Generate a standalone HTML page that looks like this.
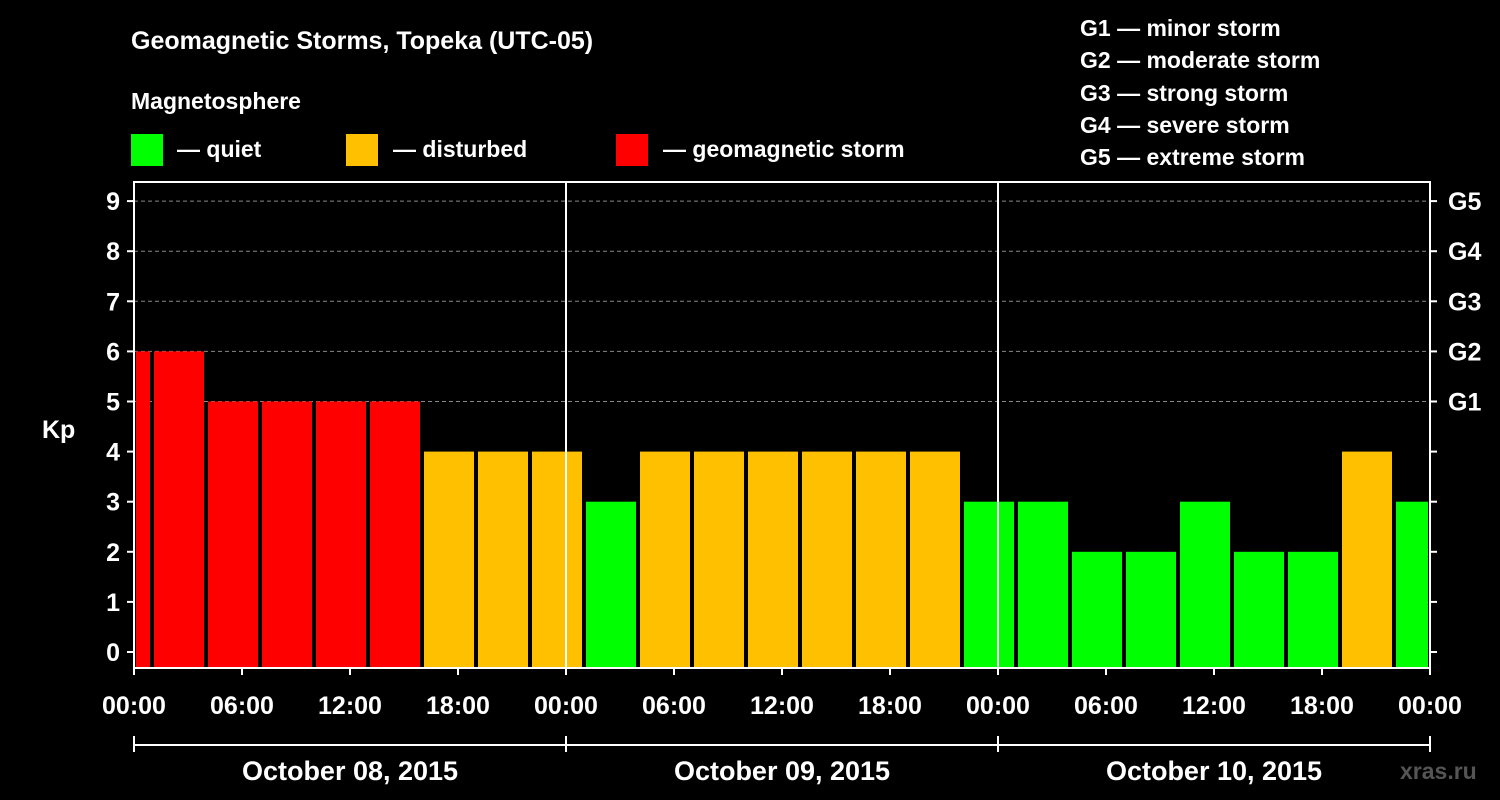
<!DOCTYPE html>
<html><head><meta charset="utf-8"><style>
html,body{margin:0;padding:0;background:#000;}
svg{display:block;font-family:"Liberation Sans",sans-serif;font-weight:bold;}
</style></head><body>
<svg id="chart" width="1500" height="800" xmlns="http://www.w3.org/2000/svg">
<rect width="1500" height="800" fill="#000"/>
<text x="131" y="49" fill="#fff" font-size="25">Geomagnetic Storms, Topeka (UTC-05)</text>
<text x="131" y="109" fill="#fff" font-size="23">Magnetosphere</text>
<g><rect x="131" y="134" width="32" height="32" fill="#00ff00"/><text x="177" y="157" fill="#fff" font-size="23">— quiet</text></g>
<g><rect x="346" y="134" width="32" height="32" fill="#ffc000"/><text x="393" y="157" fill="#fff" font-size="23">— disturbed</text></g>
<g><rect x="616" y="134" width="32" height="32" fill="#ff0000"/><text x="663" y="157" fill="#fff" font-size="23">— geomagnetic storm</text></g>
<g fill="#fff" font-size="23">
<text x="1080" y="36">G1 — minor storm</text>
<text x="1080" y="68">G2 — moderate storm</text>
<text x="1080" y="101">G3 — strong storm</text>
<text x="1080" y="133">G4 — severe storm</text>
<text x="1080" y="165">G5 — extreme storm</text>
</g>
<text x="42" y="438" fill="#fff" font-size="25">Kp</text>
<text x="1400" y="779" fill="#555" font-size="23">xras.ru</text>
<g id="plot"></g>
</svg>
<script>
const kpValues=[6,6,5,5,5,5,4,4,4,3,4,4,4,4,4,4,3,3,2,2,3,2,2,4,3];
const firstBarStartHour=-2;
const yTicks=[0,1,2,3,4,5,6,7,8,9];
const gLabels=["G1","G2","G3","G4","G5"];
const xTickLabels=["00:00","06:00","12:00","18:00","00:00","06:00","12:00","18:00","00:00","06:00","12:00","18:00","00:00"];
const dateLabels=["October 08, 2015","October 09, 2015","October 10, 2015"];
const L=134,R=1430,T=182,B=668,totalHours=72;
const x=h=>L+(R-L)*h/totalHours;
const y=v=>652-v*50.1;
const NS="http://www.w3.org/2000/svg";
const g=document.getElementById('plot');
function mk(t,a,p){const e=document.createElementNS(NS,t);for(const k in a)e.setAttribute(k,a[k]);(p||g).appendChild(e);return e;}
// grid
for(const v of yTicks){if(v>=5){const l=mk('line',{x1:L,x2:R,y1:y(v),y2:y(v),stroke:'#888','stroke-dasharray':'4,3','stroke-width':1});

}}
// bars
kpValues.forEach((v,i)=>{let s=firstBarStartHour+3*i,e=s+3;s=Math.max(s,0);e=Math.min(e,totalHours);
const x0=x(s)+2,x1=x(e)-2;const col=v>=5?'#ff0000':(v>=4?'#ffc000':'#00ff00');
const r=mk('rect',{x:x0,y:y(v),width:Math.max(0,x1-x0),height:y(0)-y(v)+16,fill:col});

});
// day separators
for(const d of [1,2]){const l=mk('line',{x1:x(d*24),x2:x(d*24),y1:T,y2:B,stroke:'#fff','stroke-width':2});

}
// frame
const f=mk('rect',{x:L,y:T,width:R-L,height:B-T,fill:'none',stroke:'#fff','stroke-width':2});


// y ticks
yTicks.forEach(v=>{mk('line',{x1:L-7,x2:L,y1:y(v),y2:y(v),stroke:'#fff','stroke-width':2});
mk('line',{x1:R,x2:R+7,y1:y(v),y2:y(v),stroke:'#fff','stroke-width':2});
const t=mk('text',{x:L-14,y:y(v)+9,fill:'#fff','font-size':25,'text-anchor':'end'});t.textContent=v;


if(v>=5){const gt=mk('text',{x:R+18,y:y(v)+9,fill:'#fff','font-size':25});gt.textContent=gLabels[v-5];

}});
// x ticks
xTickLabels.forEach((lab,i)=>{const xx=x(i*6);mk('line',{x1:xx,x2:xx,y1:B,y2:B+7,stroke:'#fff','stroke-width':2});
const t=mk('text',{x:xx,y:714,fill:'#fff','font-size':25,'text-anchor':'middle'});t.textContent=lab;

});
// date bracket
mk('line',{x1:L,x2:R,y1:745,y2:745,stroke:'#fff','stroke-width':2});
for(let d=0;d<=3;d++)mk('line',{x1:x(d*24),x2:x(d*24),y1:736,y2:752,stroke:'#fff','stroke-width':2});
dateLabels.forEach((lab,i)=>{const t=mk('text',{x:x(i*24+12),y:780,fill:'#fff','font-size':27,'text-anchor':'middle'});t.textContent=lab;

});
</script>
</body></html>
